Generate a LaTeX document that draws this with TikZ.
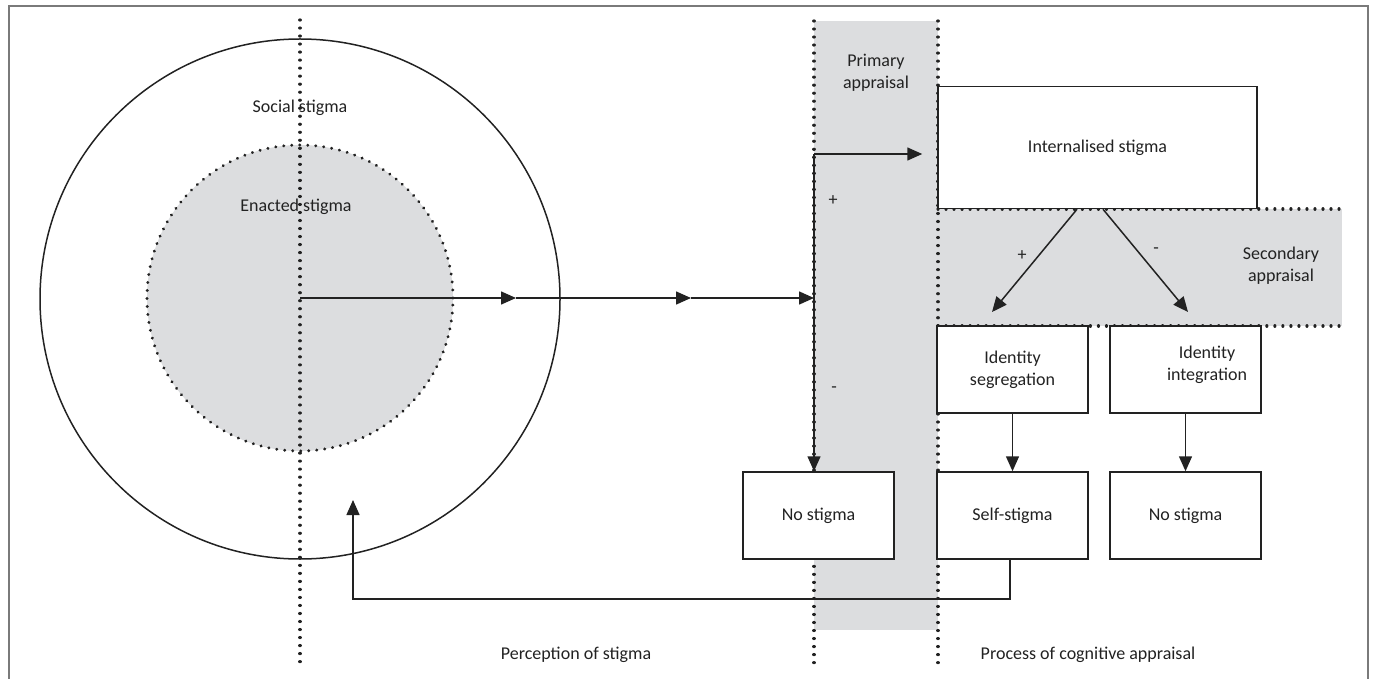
\documentclass[tikz,border=0pt]{standalone}
\usepackage{fontspec}
\setmainfont{Carlito}
\usetikzlibrary{arrows.meta,calc}
\definecolor{bgfill}{HTML}{DCDDDF}
\definecolor{ink}{HTML}{222222}
\definecolor{framec}{HTML}{7A7A7A}
\tikzset{
  box/.style={draw=ink, line width=0.75pt, fill=white, minimum width=75.5pt, minimum height=43.5pt, inner sep=0pt, align=center, font=\fontsize{9}{11}\selectfont, text=ink},
  lbl/.style={font=\fontsize{9}{11}\selectfont, text=ink, align=center, inner sep=0pt},
  dots/.style={draw=ink, line width=1.6pt, line cap=round, dash pattern=on 0.01pt off 4pt},
  conn/.style={draw=ink, line width=0.75pt},
  arr/.style={conn, -{Triangle[length=7.5pt,width=6.5pt]}},
}
\begin{document}
\begin{tikzpicture}[x=0.5pt,y=-0.5pt]
\useasboundingbox (0,0) rectangle (1375,679);
% frame
\draw[framec, line width=1pt] (8.5,690) -- (8.5,6) -- (1368,6) -- (1368,690);
% shaded areas
\fill[bgfill] (814,21) rectangle (938,630);
\fill[bgfill] (938,209) rectangle (1342,326);
% circles
\draw[ink, line width=0.75pt] (300,299) circle[radius=130pt];
\fill[bgfill] (300,298) circle[radius=76.5pt];
\draw[dots] (300,298) circle[radius=76.5pt];
% dotted guide lines
\draw[dots] (300,20) -- (300,668);
\draw[dots] (814,21) -- (814,668);
\draw[dots] (938,21) -- (938,668);
\draw[dots] (938,209) -- (1342,209);
\draw[dots] (938,326) -- (1342,326);
% labels in circles
\node[lbl] (social) at (300,108) {Social stigma};
\node[lbl] (enacted) at (296,207) {Enacted stigma};
% boxes
\node[box, minimum width=159.5pt, minimum height=61pt] (intern) at (1097.5,147.5) {Internalised stigma};
\node[box] (nobox) at (818.5,515.5) {No stigma};
\node[box] (segbox) at (1012.5,369.5) {Identity\\segregation};
\node[box] (selfbox) at (1012.5,515.5) {Self-stigma};
\node[box] (intbox) at (1185.5,369.5) {};
\node[lbl] (inttext) at (1207,365) {Identity\\integration};
\node[box] (nobox2) at (1185.5,515.5) {No stigma};
% region labels
\node[lbl] (primary) at (876,73) {Primary\\appraisal};
\node[lbl] (secondary) at (1281,266) {Secondary\\appraisal};
\node[lbl] (perc) at (576,655) {Perception of stigma};
\node[lbl] (proc) at (1088,655) {Process of cognitive appraisal};
% main line
\coordinate (c) at (300,298);
\coordinate (m1) at (516,298);
\coordinate (m2) at (691,298);
\coordinate (m3) at (814,298);
\draw[arr] (c) -- (m1);
\draw[arr] (m1) -- (m2);
\draw[arr] (m2) -- (m3);
% primary appraisal
\coordinate (split) at (814,154);
\draw[arr] (split) -- (nobox.north -| split);
\draw[arr, shorten >=7.5pt] (split) -- (intern.west |- split);
\node[lbl] (plus1) at (833,201) {+};
\node[lbl] (minus1) at (834,390) {-};
% secondary appraisal
\coordinate (d1) at (992,312);
\coordinate (d2) at (1188,312);
\draw[arr] ($(intern.south)+(-20.5,0)$) -- (d1);
\draw[arr] ($(intern.south)+(5.5,0)$) -- (d2);
\node[lbl] (plus2) at (1022,256) {+};
\node[lbl] (minus2) at (1156,251) {-};
% down arrows
\draw[arr] (segbox.south) -- (selfbox.north);
\draw[arr] (intbox.south) -- (nobox2.north);
% feedback
\coordinate (fb) at (353,500);
\draw[arr] ($(selfbox.south)+(-2.5,0)$) -- ++(0,39) -| (fb);
\end{tikzpicture}
\end{document}
